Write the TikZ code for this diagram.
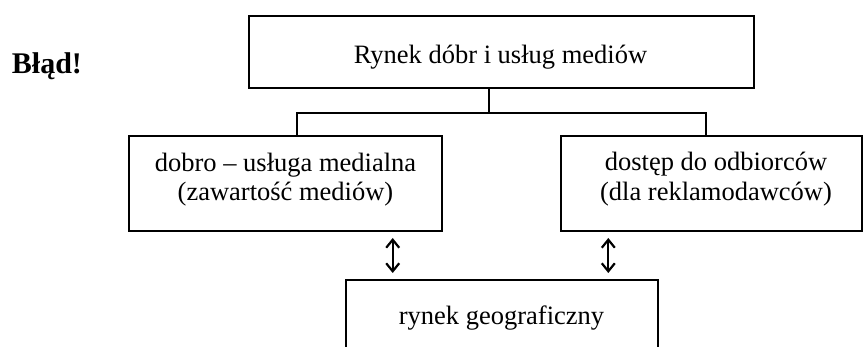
\documentclass[tikz,border=0pt]{standalone}
\usepackage{fontspec}
\setmainfont{Liberation Serif}
\usetikzlibrary{arrows.meta}
\begin{document}
\begin{tikzpicture}[x=1pt,y=-1pt,
  boxnode/.style={draw, line width=2.2pt, inner sep=0pt, outer sep=0pt},
  lbl/.style={inner sep=0pt, anchor=base, font=\fontsize{26.5}{32}\selectfont},
  conn/.style={line width=1.8pt},
  dbl/.style={line width=2.2pt, {Straight Barb[length=8pt,width=13pt]}-{Straight Barb[length=8pt,width=13pt]}, shorten <=7pt, shorten >=7pt}]
\clip (0,0) rectangle (865,347);
\fill[white] (0,0) rectangle (865,347);
% boxes
\node[boxnode, minimum width=504.7pt, minimum height=72.3pt] (top) at (501.7,51.85) {};
\node[boxnode, minimum width=312.4pt, minimum height=95pt] (left) at (285.5,183.5) {};
\node[boxnode, minimum width=300.7pt, minimum height=95pt] (right) at (711.4,183.5) {};
\node[boxnode, minimum width=312.3pt, minimum height=80pt] (bot) at (502.2,320) {};
% labels
\node[lbl] (ttop) at (500.5,63.3) {Rynek dóbr i usług mediów};
\node[lbl] (tl1) at (285.5,171.7) {dobro – usługa medialna};
\node[lbl] (tl2) at (285.5,200.8) {(zawartość mediów)};
\node[lbl] (tr1) at (716,170.5) {dostęp do odbiorców};
\node[lbl] (tr2) at (716,200.3) {(dla reklamodawców)};
\node[lbl] (tb) at (501.5,324.3) {rynek geograficzny};
\node[inner sep=0pt, anchor=base west, font=\fontsize{30}{36}\selectfont\bfseries] (err) at (11.7,73.3) {Błąd!};
% connectors
\coordinate (jc) at (489.3,112.7);
\coordinate (jl) at (297.3,112.7);
\coordinate (jr) at (705.7,112.7);
\draw[conn] (jc |- top.south) -- (jc);
\draw[conn] (jl |- left.north) -- (jl) -- (jr) -- (jr |- right.north);
\coordinate (al) at (392.7,0);
\coordinate (ar) at (608.3,0);
\draw[dbl] (al |- left.south) -- (al |- bot.north);
\draw[dbl] (ar |- right.south) -- (ar |- bot.north);
\end{tikzpicture}
\end{document}
